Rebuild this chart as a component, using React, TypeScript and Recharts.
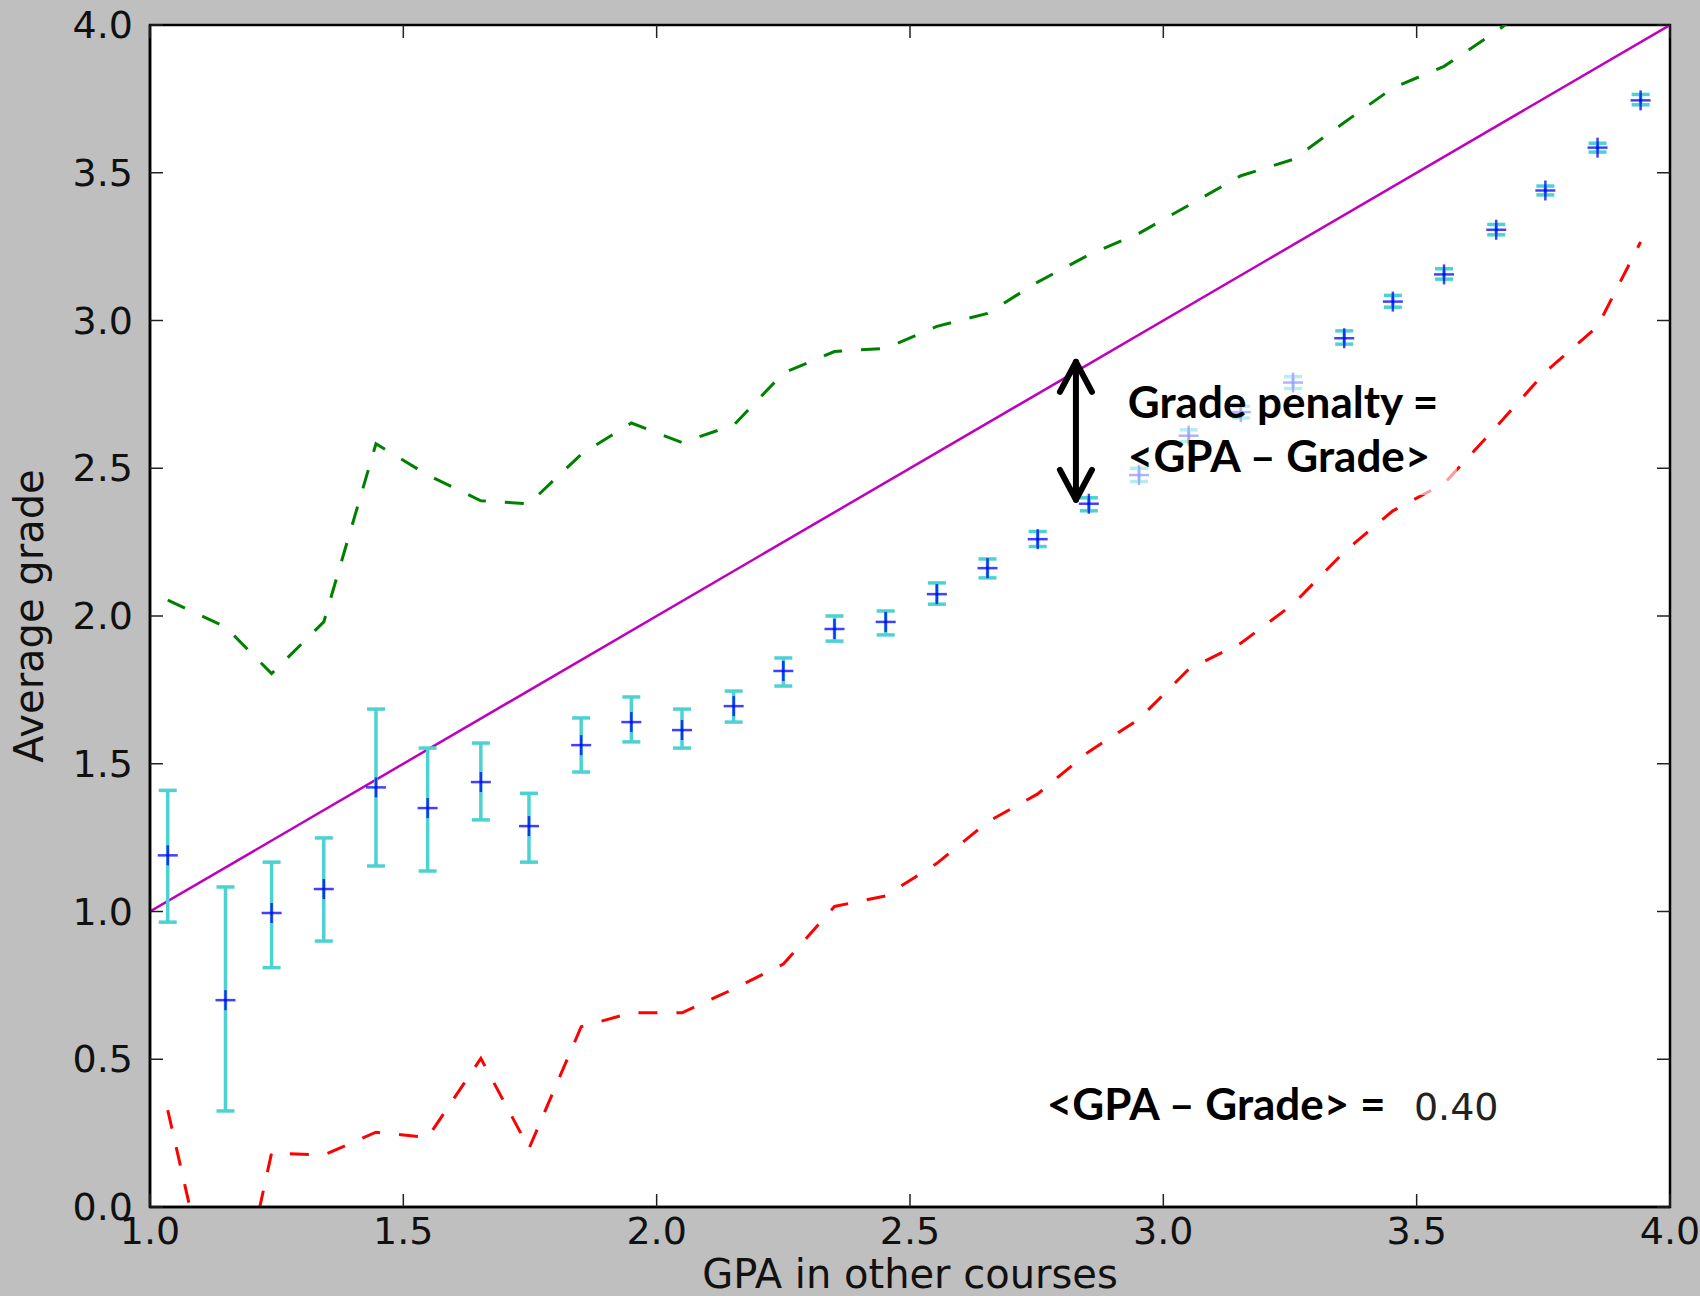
import React from 'react';
import {
  ComposedChart,
  Line,
  Scatter,
  ErrorBar,
  XAxis,
  YAxis,
  CartesianGrid,
  ReferenceLine,
  ReferenceDot,
  ReferenceArea,
  Label,
} from 'recharts';

// bin centres (GPA in other courses)
const gpa = [
  1.035, 1.149, 1.24, 1.343, 1.446, 1.548, 1.653, 1.748, 1.851, 1.95,
  2.05, 2.152, 2.25, 2.351, 2.452, 2.553, 2.653, 2.752, 2.853, 2.952,
  3.05, 3.153, 3.256, 3.357, 3.453, 3.554, 3.657, 3.754, 3.857, 3.942,
];

const avgGrade = [
  1.19, 0.7, 0.995, 1.076, 1.42, 1.35, 1.438, 1.289, 1.563, 1.641,
  1.614, 1.695, 1.814, 1.956, 1.98, 2.074, 2.162, 2.26, 2.38, 2.477,
  2.61, 2.69, 2.79, 2.94, 3.064, 3.156, 3.307, 3.44, 3.585, 3.745,
];

const gradeLow = [
  0.964, 0.325, 0.81, 0.9, 1.154, 1.137, 1.31, 1.167, 1.472, 1.574,
  1.553, 1.641, 1.763, 1.915, 1.936, 2.04, 2.129, 2.235, 2.356, 2.455,
  2.59, 2.67, 2.77, 2.92, 3.045, 3.14, 3.29, 3.425, 3.57, 3.73,
];

const gradeHigh = [
  1.41, 1.083, 1.167, 1.249, 1.685, 1.553, 1.57, 1.4, 1.655, 1.726,
  1.685, 1.746, 1.858, 2.0, 2.017, 2.112, 2.193, 2.286, 2.4, 2.5,
  2.63, 2.71, 2.81, 2.965, 3.085, 3.175, 3.325, 3.455, 3.6, 3.765,
];

const upperBand = [
  2.054, 1.963, 1.805, 1.98, 2.583, 2.477, 2.39, 2.38, 2.547, 2.653,
  2.587, 2.646, 2.822, 2.895, 2.906, 2.98, 3.024, 3.13, 3.222, 3.295,
  3.39, 3.49, 3.545, 3.67, 3.787, 3.86, 3.978, 4.1, 4.22, 4.33,
];

const lowerBand = [
  0.328, -0.53, 0.183, 0.176, 0.253, 0.235, 0.503, 0.198, 0.61, 0.657,
  0.657, 0.738, 0.822, 1.017, 1.053, 1.163, 1.303, 1.398, 1.541, 1.651,
  1.82, 1.908, 2.04, 2.217, 2.356, 2.448, 2.64, 2.826, 2.98, 3.266,
];

const diagonal = [1, 4];

const xTicks = [1.0, 1.5, 2.0, 2.5, 3.0, 3.5, 4.0];
const yTicks = [0, 0.5, 1.0, 1.5, 2.0, 2.5, 3.0, 3.5, 4.0];

const penaltyArrow = { x: 2.8275, from: 2.393, to: 2.86 };
const penaltyText = ['Grade penalty =', '<GPA \u2013 Grade>'];
const meanText = '<GPA \u2013 Grade> =';
const meanValue = '0.40';

const rows = gpa.map((g, i) => ({
  gpa: g,
  grade: avgGrade[i],
  err: [avgGrade[i] - gradeLow[i], gradeHigh[i] - avgGrade[i]],
  upper: upperBand[i],
  lower: lowerBand[i],
}));

const diagRows = diagonal.map((v) => ({ gpa: v, diag: v }));

// layout
const W = 1700;
const H = 1296;
const MARGIN = { top: 25, right: 30, bottom: 0, left: 0 };
const Y_AXIS_W = 150;
const X_AXIS_H = 89;
const PLOT_W = W - MARGIN.left - MARGIN.right - Y_AXIS_W;
const PLOT_H = H - MARGIN.top - MARGIN.bottom - X_AXIS_H;

const MPL_FONT = '"DejaVu Sans", sans-serif';
const NOTE_FONT = 'Lato, "Open Sans", sans-serif';
const NOTE_SIZE = 44;
const TICK_LEN = 13;

const fmt = (v: number) => v.toFixed(1);

// matplotlib classic ticks: inward, on both opposite sides
function BottomTick({ x, y, payload }: any) {
  const top = y - PLOT_H;
  return (
    <g>
      <line x1={x} x2={x} y1={y} y2={y - TICK_LEN} stroke="#222" strokeWidth={1.5} />
      <line x1={x} x2={x} y1={top} y2={top + TICK_LEN} stroke="#222" strokeWidth={1.5} />
      <text x={x} y={y + 37} textAnchor="middle" fontFamily={MPL_FONT} fontSize={38} fill="#111">
        {fmt(payload.value)}
      </text>
    </g>
  );
}

function LeftTick({ x, y, payload }: any) {
  const right = x + PLOT_W;
  return (
    <g>
      <line x1={x} x2={x + TICK_LEN} y1={y} y2={y} stroke="#222" strokeWidth={1.5} />
      <line x1={right} x2={right - TICK_LEN} y1={y} y2={y} stroke="#222" strokeWidth={1.5} />
      <text x={x - 17} y={y + 13} textAnchor="end" fontFamily={MPL_FONT} fontSize={38} fill="#111">
        {fmt(payload.value)}
      </text>
    </g>
  );
}

function PlusMarker({ cx, cy }: any) {
  if (cx == null || cy == null) return null;
  return (
    <g stroke="#0000ff" strokeWidth={2.5} strokeOpacity={0.75}>
      <line x1={cx - 10} x2={cx + 10} y1={cy} y2={cy} />
      <line x1={cx} x2={cx} y1={cy - 10} y2={cy + 10} />
    </g>
  );
}

function DoubleArrow({ x1, y1, x2, y2 }: any) {
  const top = Math.min(y1, y2);
  const bot = Math.max(y1, y2);
  return (
    <g stroke="#000" strokeWidth={6} strokeLinecap="round" strokeLinejoin="round" fill="none">
      <line x1={x1} x2={x2} y1={top} y2={bot} />
      <polyline points={`${x1 - 16},${top + 30} ${x1},${top} ${x1 + 16},${top + 30}`} />
      <polyline points={`${x1 - 16},${bot - 30} ${x1},${bot} ${x1 + 16},${bot - 30}`} />
    </g>
  );
}

// the text box in the original is semi-opaque white, fading what lies under it
const penaltyLabel = (props: any) => {
  const vb = props.viewBox || {};
  return (
    <g>
      <rect x={vb.x - 15} y={vb.y - 53} width={344} height={130} fill="#fff" fillOpacity={0.6} />
      <text x={vb.x} y={vb.y} fontFamily={NOTE_FONT} fontWeight={700} fontSize={NOTE_SIZE} fill="#000">
        <tspan x={vb.x}>{penaltyText[0]}</tspan>
        <tspan x={vb.x} dy={54}>
          {penaltyText[1]}
        </tspan>
      </text>
    </g>
  );
};

const meanLabel = (props: any) => {
  const vb = props.viewBox || {};
  return (
    <text x={vb.x} y={vb.y} fontFamily={NOTE_FONT} fontWeight={700} fontSize={NOTE_SIZE} fill="#000">
      {meanText}
    </text>
  );
};

const valueLabel = (props: any) => {
  const vb = props.viewBox || {};
  return (
    <text x={vb.x} y={vb.y} fontFamily={MPL_FONT} fontSize={38} fill="#222">
      {meanValue}
    </text>
  );
};

export default function App() {
  return (
    <div style={{ width: W, height: H, background: '#bfbfbf' }}>
      <style>{'body{margin:0}'}</style>
      <ComposedChart width={W} height={H} data={rows} margin={MARGIN}>
        <CartesianGrid fill="#ffffff" horizontal={false} vertical={false} stroke="none" />
        <XAxis
          dataKey="gpa"
          type="number"
          domain={[1, 4]}
          ticks={xTicks}
          interval={0}
          allowDataOverflow
          height={X_AXIS_H}
          tickSize={0}
          tickMargin={0}
          tick={<BottomTick />}
          axisLine={{ stroke: '#000', strokeWidth: 2.5 }}
        >
          <Label
            content={(p: any) => {
              const vb = p.viewBox || {};
              return (
                <text
                  x={vb.x + vb.width / 2}
                  y={vb.y + 81}
                  textAnchor="middle"
                  fontFamily={MPL_FONT}
                  fontSize={40}
                  fill="#111"
                >
                  GPA in other courses
                </text>
              );
            }}
          />
        </XAxis>
        <YAxis
          type="number"
          domain={[0, 4]}
          ticks={yTicks}
          interval={0}
          allowDataOverflow
          width={Y_AXIS_W}
          tickSize={0}
          tickMargin={0}
          tick={<LeftTick />}
          axisLine={{ stroke: '#000', strokeWidth: 2.5 }}
        >
          <Label
            content={(p: any) => {
              const vb = p.viewBox || {};
              const cx = vb.x + 43;
              const cy = vb.y + vb.height / 2;
              return (
                <text
                  x={cx}
                  y={cy}
                  transform={`rotate(-90, ${cx}, ${cy})`}
                  textAnchor="middle"
                  fontFamily={MPL_FONT}
                  fontSize={40}
                  fill="#111"
                >
                  Average grade
                </text>
              );
            }}
          />
        </YAxis>

        <ReferenceArea x1={1} x2={4} y1={0} y2={4} fill="none" stroke="#000" strokeWidth={2.5} />

        <Line
          dataKey="upper"
          stroke="#008000"
          strokeWidth={3}
          strokeDasharray="19 19"
          dot={false}
          activeDot={false}
          isAnimationActive={false}
        />
        <Line
          dataKey="lower"
          stroke="#ff0000"
          strokeWidth={3}
          strokeDasharray="19 19"
          dot={false}
          activeDot={false}
          isAnimationActive={false}
        />
        <Line
          data={diagRows}
          dataKey="diag"
          stroke="#bf00bf"
          strokeWidth={2.5}
          dot={false}
          activeDot={false}
          isAnimationActive={false}
        />
        <Scatter dataKey="grade" shape={<PlusMarker />} isAnimationActive={false}>
          <ErrorBar dataKey="err" direction="y" width={9} stroke="#4dd2d2" strokeWidth={3.5} />
        </Scatter>

        <ReferenceLine
          segment={[
            { x: penaltyArrow.x, y: penaltyArrow.from },
            { x: penaltyArrow.x, y: penaltyArrow.to },
          ]}
          shape={(p: any) => <DoubleArrow {...p} />}
        />
        <ReferenceDot x={2.93} y={2.67} r={0} fill="none" stroke="none">
          <Label content={penaltyLabel} />
        </ReferenceDot>
        <ReferenceDot x={2.77} y={0.294} r={0} fill="none" stroke="none">
          <Label content={meanLabel} />
        </ReferenceDot>
        <ReferenceDot x={3.4946} y={0.294} r={0} fill="none" stroke="none">
          <Label content={valueLabel} />
        </ReferenceDot>
      </ComposedChart>
    </div>
  );
}
